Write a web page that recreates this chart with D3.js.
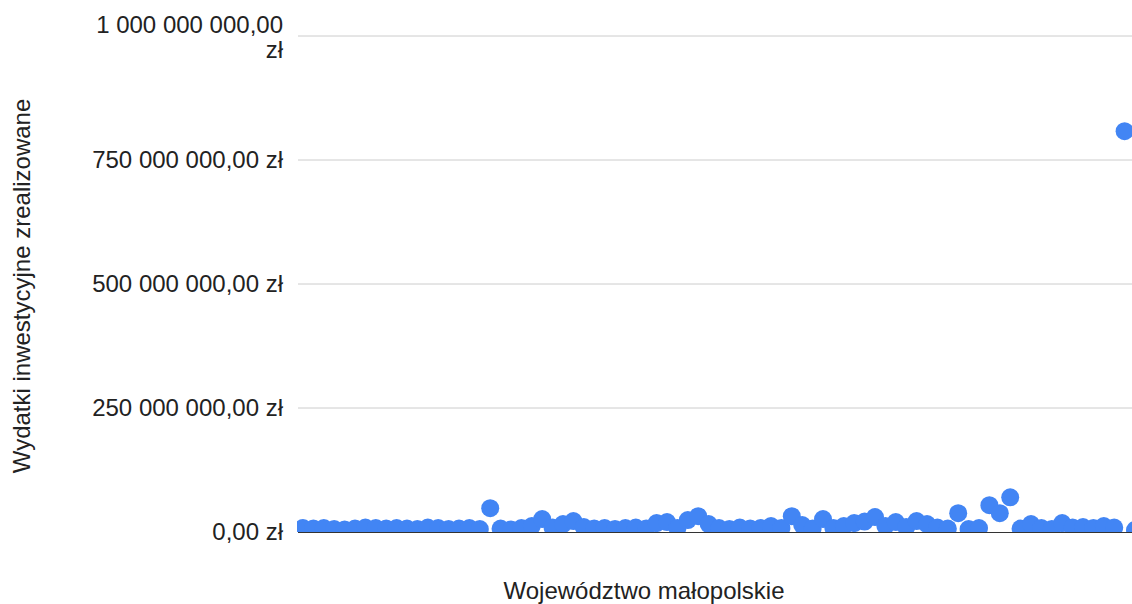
<!DOCTYPE html>
<html><head><meta charset="utf-8">
<script src="https://cdn.jsdelivr.net/npm/d3@7"></script>
<style>body{margin:0;background:#fff;}svg{display:block;font-family:Arial,"Liberation Sans",sans-serif;}</style>
</head><body>
<svg id="c" width="1132" height="604"></svg>
<script>
// Values in millions of zł, one per gmina (category order as in the sheet)
const values = [
 8,7,8,6,5,7,9,8,7,8,7,6,9,8,6,7,8,6,48,7,
 5,8,12,26,9,16,22,10,7,8,6,8,9,7,18,20,8,24,32,16,
 8,6,9,7,8,12,8,32,14,7,26,8,12,18,21,30,12,20,10,22,
 16,9,7,38,6,8,54,38,70,7,16,8,6,18,9,10,8,12,9,808,
 4
];
const categories = values.map((d,i)=>"Gmina " + (i+1));
const yTicks = [0, 250e6, 500e6, 750e6, 1000e6];
const yTickLabels = [["0,00 zł"],["250 000 000,00 zł"],["500 000 000,00 zł"],["750 000 000,00 zł"],["1 000 000 000,00","zł"]];
const yTitle = "Wydatki inwestycyjne zrealizowane";
const xTitle = "Województwo małopolskie";

(function(){
const svg = d3.select("#c");
const L = 298, R = 1132, T = 36, B = 532;
const x = d3.scalePoint().domain(categories).range([303, 303 + 10.4*(categories.length-1)]);
const y = d3.scaleLinear().domain([0, 1e9]).range([B, T]);

svg.append("defs").append("clipPath").attr("id","plot")
  .append("rect").attr("x", L - 1).attr("y", 0).attr("width", R - L + 1).attr("height", B);

svg.append("g").selectAll("line").data(yTicks.slice(1)).join("line")
  .attr("x1", L).attr("x2", R)
  .attr("y1", d=>y(d)).attr("y2", d=>y(d))
  .attr("stroke", "#cccccc").attr("stroke-width", 1);

const tl = svg.append("g").selectAll("text").data(yTicks).join("text")
  .attr("x", 283).attr("text-anchor", "end")
  .attr("font-size", 24).attr("fill", "#222");
tl.each(function(d,i){
  const lines = yTickLabels[i];
  const t = d3.select(this);
  lines.forEach((s,j)=>{
    t.append("tspan").attr("x", 283)
     .attr("y", y(d) + 8 - (lines.length-1)*11 + j*25).text(s);
  });
});

svg.append("g").attr("clip-path","url(#plot)").selectAll("circle").data(values).join("circle")
  .attr("cx", (d,i)=>x(categories[i]))
  .attr("cy", d=>y(d*1e6))
  .attr("r", 9)
  .attr("fill", "#4285f4");

svg.append("line").attr("x1", L).attr("x2", R)
  .attr("y1", B + 0.5).attr("y2", B + 0.5)
  .attr("stroke", "#333").attr("stroke-width", 1);

svg.append("text").attr("transform", `translate(30,286) rotate(-90)`)
  .attr("text-anchor","middle").attr("font-size", 24).attr("fill","#222").text(yTitle);
svg.append("text").attr("x", 644).attr("y", 599)
  .attr("text-anchor","middle").attr("font-size", 24).attr("fill","#222").text(xTitle);
})();
</script>
</body></html>
